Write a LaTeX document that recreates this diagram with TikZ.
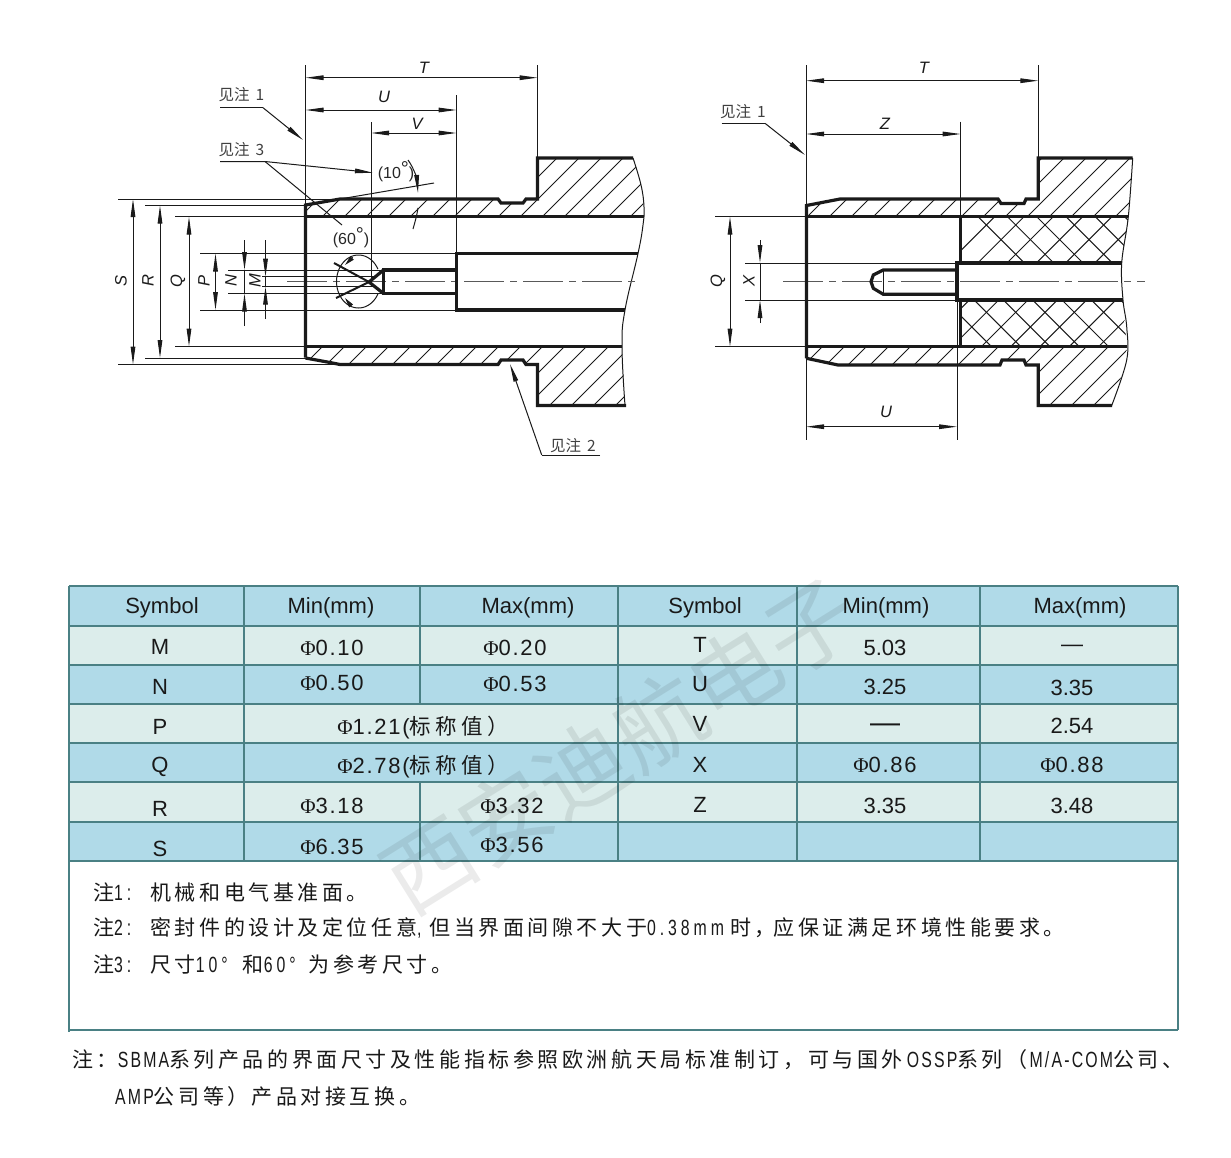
\documentclass[tikz,border=0pt]{standalone}
\usepackage{fontspec}
\setmainfont{Liberation Sans}
\newfontfamily\cjk{Noto Sans CJK SC}
\newfontfamily\cjksp{Noto Sans CJK SC}[LetterSpace=17]
\newfontfamily\cjkwide{Noto Sans CJK SC}[LetterSpace=20]
\newfontfamily\valf{Liberation Sans}[LetterSpace=8]
\newfontfamily\phif{Liberation Serif}
\newfontfamily\latf{Liberation Sans}[FakeStretch=0.72,LetterSpace=18]
\newfontfamily\latb{Liberation Sans}[FakeStretch=0.72,LetterSpace=10]
\usetikzlibrary{arrows.meta}
\definecolor{rowdark}{HTML}{B0DAE8}
\definecolor{rowlight}{HTML}{DCEDEB}
\definecolor{gridc}{HTML}{4A8084}
\definecolor{inkc}{HTML}{1A1A1A}
\newcommand\fs[1]{\fontsize{#1}{#1}\selectfont}
\newcommand\dia[1]{{\phif\fs{21}\char"03A6}{\valf\fs{22}#1}}
\newcommand\la[1]{{\latf\fs{22}#1}}
\newcommand\lb[1]{{\latb\fs{22}#1}}
\newcommand\hatchset[3]{\foreach \cc in {#1,#2,...,#3}{\draw[hatchl] (\cc-100,100) -- (\cc-520,520);}}
\tikzset{
  thick line/.style={line width=3.2pt,line join=miter,line cap=butt,draw=inkc},
  thin line/.style={line width=1pt,draw=inkc},
  hatchl/.style={line width=1pt,draw=inkc},
  center line/.style={line width=1.3pt,draw=black!65,dash pattern=on 40pt off 6pt on 7pt off 6pt},
  dim/.style={thin line,{Stealth[inset=0pt,length=18pt,width=4.6pt]}-{Stealth[inset=0pt,length=18pt,width=4.6pt]}},
  tipend/.style={thin line,-{Stealth[inset=0pt,length=18pt,width=4.6pt]}},
  dimlabel/.style={inner sep=0pt,font=\fs{16.5}\itshape,text=inkc},
  notelabel/.style={inner sep=0pt,font=\cjk\fs{15.5},text=black!75},
  cell/.style={inner sep=0pt,font=\fs{22},text=black!90},
  notetext/.style={inner sep=0pt,anchor=west,font=\cjksp\fs{21},text=black!90}
}
\begin{document}
\begin{tikzpicture}[x=1pt,y=-1pt]
\useasboundingbox (0,0) rectangle (1231,1157);
\fill[white] (0,0) rectangle (1231,1157);

% ---------- LEFT DRAWING ----------
\begin{scope}
\clip (305.5,205) -- (340,199) -- (498,199) -- (501,203) -- (523,203) -- (526,199) -- (537.5,199) -- (537.5,158) -- (633,158) -- (641,185) -- (644,207) -- (643,216.7) -- (305.5,216.7) -- cycle;
\hatchset{495}{517}{1000}
\end{scope}
\begin{scope}
\clip (305.5,346.5) -- (622,346.5) -- (625,405.5) -- (537.5,405.5) -- (537.5,364.5) -- (526,364.5) -- (523,360) -- (501,360) -- (498,364.5) -- (340,364.5) -- (330,362.5) -- (305.5,358) -- cycle;
\hatchset{647}{669}{1100}
\end{scope}
\draw[thin line] (305.5,65) -- (305.5,206);
\draw[thin line] (537.5,65) -- (537.5,158);
\draw[thin line] (456.5,95) -- (456.5,254);
\draw[thin line] (371,122) -- (371,282);
\draw[thin line] (118,199) -- (340,199);
\draw[thin line] (145,205.5) -- (305.5,205.5);
\draw[thin line] (175,216.7) -- (305.5,216.7);
\draw[thin line] (175,346.5) -- (305.5,346.5);
\draw[thin line] (145,358) -- (305.5,358);
\draw[thin line] (118,364.5) -- (340,364.5);
\draw[thin line] (200,253.5) -- (456.5,253.5);
\draw[thin line] (200,310) -- (456.5,310);
\draw[thin line] (228,270) -- (384,270);
\draw[thin line] (228,293.5) -- (384,293.5);
\draw[thin line] (262,276.7) -- (376,276.7);
\draw[thin line] (262,286.7) -- (376,286.7);
\draw[thin line] plot[smooth,tension=0.7] coordinates {(633,158) (641,185) (644,207) (643,225) (638,253.5) (625,310) (622,346.5) (625,405.5)};
\draw[center line] (287,281.7) -- (638,281.7);
\draw[thick line] (305.5,357.5) -- (305.5,205) -- (340,199) -- (498,199) -- (501,203) -- (523,203) -- (526,199) -- (537.5,199) -- (537.5,158) -- (633,158);
\draw[thick line] (305.5,216.7) -- (644,216.7);
\draw[thick line] (305.5,346.5) -- (622,346.5);
\draw[thick line] (305.5,358) -- (330,362.5) -- (340,364.5) -- (498,364.5) -- (501,360) -- (523,360) -- (526,364.5) -- (537.5,364.5) -- (537.5,405.5) -- (626,405.5);
\draw[thick line] (638,253.5) -- (456.5,253.5) -- (456.5,310) -- (625,310);
\draw[thick line] (456.5,270) -- (383.5,270) -- (383.5,293.5) -- (456.5,293.5);
\draw[thick line] (383.5,270) -- (369,282) -- (383.5,293.5);
\draw[line width=2pt,draw=inkc] (334,263) -- (369,282) (336,298) -- (369,282);
\draw[thin line,shift={(358.5,281.5)}] plot[domain=28:332,samples=50,smooth] ({22*cos(\x)},{26.5*sin(\x)});
\draw[-{Stealth[inset=0pt,length=10pt,width=4.6pt]},thin line] (352.7,257.3) -- (345,265);
\draw[-{Stealth[inset=0pt,length=10pt,width=4.6pt]},thin line] (351.7,306.7) -- (345,298);
\draw[thin line] (340,199) -- (434,183);
\draw[tipend] (408,160) .. controls (414,168) and (417,180) .. (418,193);
\draw[thin line] (418,208) .. controls (417,215) and (415,222) .. (413,229);
\coordinate (TL) at (305.5,77.7); \coordinate (TR) at (537.5,77.7);
\coordinate (UL) at (305.5,110); \coordinate (UR) at (456.5,110);
\coordinate (VL) at (371,133); \coordinate (VR) at (456.5,133);
\draw[dim] (TL) -- (TR);
\draw[dim] (UL) -- (UR);
\draw[dim] (VL) -- (VR);
\node[dimlabel] (lT) at (424,68) {T};
\node[dimlabel] (lU) at (384,97) {U};
\node[dimlabel] (lV) at (417,124) {V};
\draw[dim] (133,199) -- (133,364.5);
\draw[dim] (160,205.5) -- (160,358);
\draw[dim] (189,216.7) -- (189,346.5);
\draw[dim] (215.5,253.5) -- (215.5,310);
\draw[tipend] (244.5,240) -- (244.5,270);
\draw[tipend] (244.5,326) -- (244.5,293.5);
\draw[thin line] (244.5,270) -- (244.5,293.5);
\draw[tipend] (265.5,240) -- (265.5,276.7);
\draw[tipend] (265.5,319) -- (265.5,286.7);
\draw[thin line] (265.5,276.7) -- (265.5,286.7);
\foreach \nm/\xx in {S/121,R/148,Q/178,P/204,N/231,M/255}
  \node[dimlabel,rotate=90] (l\nm) at (\xx,281) {\nm};
\node[notelabel] (n1) at (241.5,95) {见注\hspace{6pt}1};
\coordinate (n1a) at (220,107.7); \coordinate (n1b) at (263,107.7); \coordinate (n1c) at (303,140);
\draw[thin line] (n1a) -- (n1b);
\draw[tipend] (n1b) -- (n1c);
\node[notelabel] (n3) at (241.5,150) {见注\hspace{6pt}3};
\coordinate (n3a) at (220,161.5); \coordinate (n3b) at (265,161.5); \coordinate (n3c) at (373,172.7); \coordinate (n3d) at (342,225);
\draw[thin line] (n3a) -- (n3b) -- (n3d);
\draw[tipend] (n3b) -- (n3c);
\node[inner sep=0pt,font=\fs{16},text=black!85] (a10) at (396,172) {(10\raisebox{3pt}{\fs{20}°})};
\node[inner sep=0pt,font=\fs{16},text=black!85] (a60) at (351,238) {(60\raisebox{3pt}{\fs{20}°})};
\node[notelabel] (n2) at (573,446) {见注\hspace{6pt}2};
\coordinate (n2a) at (600,455); \coordinate (n2b) at (541.7,455); \coordinate (n2c) at (510,364);
\draw[thin line] (n2a) -- (n2b);
\draw[tipend] (n2b) -- (n2c);

% ---------- RIGHT DRAWING ----------
\begin{scope}
\clip (806.5,205.5) -- (840,199) -- (998,199) -- (1001,203.5) -- (1024,203.5) -- (1026,199) -- (1038,199) -- (1038,158) -- (1132.7,158) -- (1128.3,216.7) -- (806.5,216.7) -- cycle;
\hatchset{980}{1002}{1500}
\end{scope}
\begin{scope}
\clip (806.5,346.7) -- (1126.7,346.7) -- (1126.7,360) -- (1111.7,405.5) -- (1038,405.5) -- (1038,365) -- (1026,365) -- (1024,360) -- (1002,360) -- (1000,365) -- (838,365) -- (806.5,358.3) -- cycle;
\hatchset{1147}{1169}{1600}
\end{scope}
\begin{scope}
\clip (960.7,216.7) -- (1128.3,216.7) -- (1121.7,263) -- (960.7,263) -- cycle;
\foreach \k in {-2,...,8}{
  \draw[hatchl] ({1270+29.3*\k-100},100) -- ({1270+29.3*\k-400},400);
  \draw[hatchl] ({820+29.3*\k+100},100) -- ({820+29.3*\k+400},400);
}
\end{scope}
\begin{scope}
\clip (960.7,300) -- (1123,300) -- (1126.7,346.7) -- (960.7,346.7) -- cycle;
\foreach \k in {-3,...,8}{
  \draw[hatchl] ({1357.3+29.3*\k-100},100) -- ({1357.3+29.3*\k-450},450);
  \draw[hatchl] ({732.7+29.3*\k+100},100) -- ({732.7+29.3*\k+450},450);
}
\end{scope}
\draw[thin line] (806,65) -- (806,440);
\draw[thin line] (1038.3,65) -- (1038.3,158);
\draw[thin line] (960.7,121.7) -- (960.7,263);
\draw[thin line] (957,300) -- (957,440);
\draw[thin line] (715,216.7) -- (806,216.7);
\draw[thin line] (715,346.7) -- (806,346.7);
\draw[thin line] (745,263) -- (957,263);
\draw[thin line] (745,300) -- (957,300);
\draw[thin line] plot[smooth,tension=0.6] coordinates {(1132.7,158) (1128.3,216.7) (1121.7,263) (1123,300) (1126.7,326.7) (1126.7,360) (1111.7,405.5)};
\draw[center line] (783,281.7) -- (1145,281.7);
\draw[thick line] (806.5,358.3) -- (806.5,205.5) -- (840,199) -- (998,199) -- (1001,203.5) -- (1024,203.5) -- (1026,199) -- (1038.3,199) -- (1038.3,158) -- (1132.7,158);
\draw[thick line] (806.5,216.7) -- (1128.3,216.7);
\draw[thick line] (806.5,346.7) -- (1127,346.7);
\draw[thick line] (806.5,358.3) -- (838,365) -- (1000,365) -- (1002,360) -- (1024,360) -- (1026,365) -- (1038.3,365) -- (1038.3,405.5) -- (1112,405.5);
\draw[thick line] (960.7,216.7) -- (960.7,263);
\draw[thick line] (960.7,300) -- (960.7,346.7);
\draw[thick line] (1122,263) -- (957,263) -- (957,300) -- (1123,300);
\draw[thick line] (957,270) -- (883.3,270) -- (873.3,275) -- (871,281.7) -- (873.3,288.3) -- (883.3,294.3) -- (957,294.3);
\draw[line width=1.2pt,draw=inkc] (883.3,270) -- (883.3,294.3);
\draw[dim] (806,80.7) -- (1038.3,80.7);
\draw[dim] (806,134) -- (960.7,134);
\draw[dim] (806,426.7) -- (957,426.7);
\node[dimlabel] (rT) at (924,68) {T};
\node[dimlabel] (rZ) at (885,124) {Z};
\node[dimlabel] (rU) at (886,412) {U};
\draw[dim] (730,216.7) -- (730,346.7);
\draw[tipend] (760,240) -- (760,263);
\draw[tipend] (760,323) -- (760,300);
\draw[thin line] (760,263) -- (760,300);
\node[dimlabel,rotate=90] (rQ) at (718,281) {Q};
\node[dimlabel,rotate=90] (rX) at (749,281) {X};
\node[notelabel] (r1) at (743,112) {见注\hspace{6pt}1};
\coordinate (r1a) at (721.7,123.3); \coordinate (r1b) at (765,123.3); \coordinate (r1c) at (805,155);
\draw[thin line] (r1a) -- (r1b);
\draw[tipend] (r1b) -- (r1c);

% ---------- TABLE ----------
\fill[rowdark] (69,586) rectangle (1178,626);
\fill[rowlight] (69,626) rectangle (1178,665);
\fill[rowdark] (69,665) rectangle (1178,704);
\fill[rowlight] (69,704) rectangle (1178,743);
\fill[rowdark] (69,743) rectangle (1178,782);
\fill[rowlight] (69,782) rectangle (1178,822);
\fill[rowdark] (69,822) rectangle (1178,861);
\foreach \yy in {586,626,665,704,743,782,822,861}
  \draw[gridc,line width=1.5pt] (69,\yy) -- (1178,\yy);
\foreach \xx in {69,244,618,797,980,1178}
  \draw[gridc,line width=1.5pt] (\xx,586) -- (\xx,861);
\draw[gridc,line width=1.5pt] (420,586) -- (420,704);
\draw[gridc,line width=1.5pt] (420,782) -- (420,861);
\draw[gridc,line width=1.5pt] (69,861) -- (69,1032);
\draw[gridc,line width=1.5pt] (1178,845) -- (1178,1030);
\draw[gridc,line width=1.5pt] (69,1030) -- (1178,1030);

\node[cell] (h1) at (162,608) {Symbol};
\node[cell] (h2) at (331,608) {Min(mm)};
\node[cell] (h3) at (528,608) {Max(mm)};
\node[cell] (h4) at (705,608) {Symbol};
\node[cell] (h5) at (886,608) {Min(mm)};
\node[cell] (h6) at (1080,608) {Max(mm)};

\node[cell] (sM) at (160,647) {M};
\node[cell] (sN) at (160,687) {N};
\node[cell] (sP) at (160,727) {P};
\node[cell] (sQ) at (160,767) {Q};
\node[cell] (sR) at (160,809) {R};
\node[cell] (sS) at (160,849) {S};
\node[cell] (sT) at (700,645) {T};
\node[cell] (sU) at (700,684) {U};
\node[cell] (sV) at (700,724) {V};
\node[cell] (sX) at (700,765) {X};
\node[cell] (sZ) at (700,805) {Z};

\node[cell] (mM) at (332,648) {\dia{0.10}};
\node[cell] (xM) at (515,648) {\dia{0.20}};
\node[cell] (mN) at (332,683) {\dia{0.50}};
\node[cell] (xN) at (515,684) {\dia{0.53}};
\node[cell] (mP) at (423,728) {\dia{1.21(}{\cjkwide\fs{21.5}标称值）}};
\node[cell] (mQ) at (423,767) {\dia{2.78(}{\cjkwide\fs{21.5}标称值）}};
\node[cell] (mR) at (332,806) {\dia{3.18}};
\node[cell] (xR) at (512,806) {\dia{3.32}};
\node[cell] (mS) at (332,847) {\dia{6.35}};
\node[cell] (xS) at (512,845) {\dia{3.56}};

\node[cell] (mT) at (885,648) {5.03};
\node[cell] (xT) at (1072,648) {—};
\node[cell] (mU) at (885,687) {3.25};
\node[cell] (xU) at (1072,688) {3.35};
\node[cell,font=\fs{30}] (mV) at (885,728) {—};
\node[cell] (xV) at (1072,726) {2.54};
\node[cell] (mX) at (885,765) {\dia{0.86}};
\node[cell] (xX) at (1072,765) {\dia{0.88}};
\node[cell] (mZ) at (885,806) {3.35};
\node[cell] (xZ) at (1072,806) {3.48};

% ---------- NOTES ----------
\node[notetext] (t1) at (93,892) {注\la{1:}\hspace{19pt}机械和电气基准面。};
\node[notetext] (t2) at (93,928) {注\la{2:}\hspace{19pt}密封件的设计及定位任意\la{,}\hspace{8pt}但当界面间隙不大于\la{0.38mm}\hspace{6pt}时，\hspace{-2pt}应保证满足环境性能要求。};
\node[notetext] (t3) at (93,964) {注\la{3:}\hspace{19pt}尺寸\la{10°}\hspace{15pt}和\la{60°}\hspace{13pt}为参考尺寸。};
\node[notetext] (t4) at (72,1060) {注：\lb{SBMA}系列产品的界面尺寸及性能指标参照欧洲航天局标准制订，可与国外\hspace{4pt}\lb{OSSP}系列（\hspace{2pt}\lb{M/A-COM}公司、};
\node[notetext] (t5) at (115,1097) {\lb{AMP}公司等）\hspace{3pt}产品对接互换。};

% ---------- WATERMARK ----------
\node[inner sep=0pt,rotate=32,opacity=0.08,font=\cjk\fs{90}] (wm) at (620,745) {西安迪航电子};
\end{tikzpicture}
\end{document}
